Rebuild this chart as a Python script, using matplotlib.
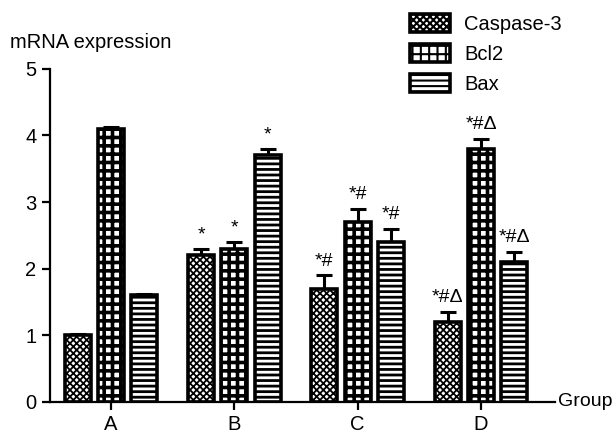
import matplotlib.pyplot as plt
import numpy as np

plt.rcParams['font.family'] = ['Liberation Sans', 'DejaVu Sans']
plt.rcParams['hatch.linewidth'] = 2.0

groups = ['A', 'B', 'C', 'D']
series = ['Caspase-3', 'Bcl2', 'Bax']
caspase = [1.0, 2.2, 1.7, 1.2]
bcl2 = [4.1, 2.3, 2.7, 3.8]
bax = [1.6, 3.7, 2.4, 2.1]
caspase_err = [0.02, 0.1, 0.2, 0.15]
bcl2_err = [0.02, 0.1, 0.2, 0.15]
bax_err = [0.02, 0.1, 0.2, 0.15]
caspase_sig = ['', '*', '*#', '*#\u0394']
bcl2_sig = ['', '*', '*#', '*#\u0394']
bax_sig = ['', '*', '*#', '*#\u0394']

my_dpi = 100
fig = plt.figure(figsize=(614 / my_dpi, 444 / my_dpi), dpi=my_dpi)
ax = fig.add_axes([0.081, 0.095, 0.823, 0.75])

x = np.arange(len(groups))
width = 0.21
offset = 0.27
hatches = ['xxxxx', '++', '---']
hatch_lw = [1.3, 2.6, 2.0]
values = [caspase, bcl2, bax]
errs = [caspase_err, bcl2_err, bax_err]
sigs = [caspase_sig, bcl2_sig, bax_sig]

for i in range(3):
    pos = x + (i - 1) * offset
    bars = ax.bar(pos, values[i], width, color='white', edgecolor='black',
                  linewidth=2.6, hatch=hatches[i], label=series[i], zorder=2)
    for b in bars:
        if hasattr(b, 'set_hatch_linewidth'):
            b.set_hatch_linewidth(hatch_lw[i])
    ax.errorbar(pos, values[i], yerr=[np.zeros(4), errs[i]], fmt='none',
                ecolor='black', elinewidth=2.2, capsize=5.5, capthick=2.2,
                zorder=1)
    for j in range(4):
        if sigs[i][j]:
            ax.annotate(sigs[i][j], (pos[j], values[i][j] + errs[i][j]),
                        xytext=(0, 4), textcoords='offset points',
                        ha='center', va='bottom', fontsize=14)

ax.set_xlim(-0.496, 3.6)
ax.set_ylim(0, 5)
ax.set_yticks([0, 1, 2, 3, 4, 5])
ax.set_xticks(x)
ax.set_xticklabels(groups)
ax.spines['top'].set_visible(False)
ax.spines['right'].set_visible(False)
for s in ['left', 'bottom']:
    ax.spines[s].set_linewidth(1.6)
ax.tick_params(axis='both', width=1.6, length=6, labelsize=14.5)

fig.text(0.016, 0.905, 'mRNA expression', fontsize=14.5, va='center')
fig.text(0.908, 0.095, 'Group', fontsize=14, va='center')

leg = fig.legend(loc='upper left', bbox_to_anchor=(0.638, 1.01), frameon=False,
                 fontsize=14.5, handlelength=2.0, handleheight=1.0,
                 labelspacing=0.5, handletextpad=0.7)
for h in leg.legend_handles:
    if hasattr(h, 'set_hatch_linewidth'):
        h.set_hatch_linewidth(1.5)

fig.savefig('out.png', dpi=my_dpi)
